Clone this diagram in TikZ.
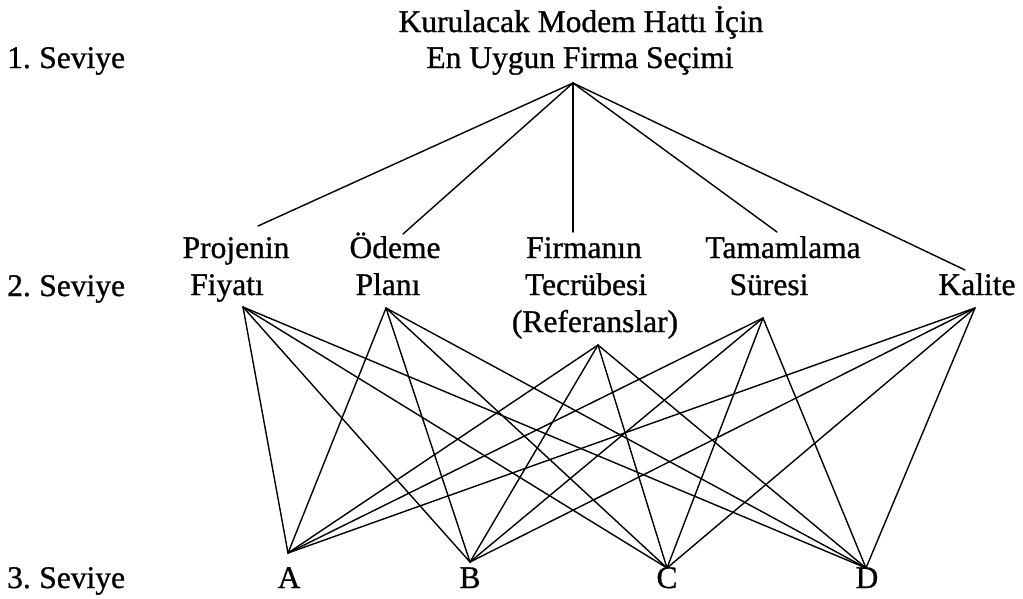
\documentclass[tikz,border=0pt]{standalone}
\usepackage{fontspec}
\setmainfont{Liberation Serif}[FakeBold=0.9]
\begin{document}
\begin{tikzpicture}[x=1pt,y=-1pt,
  lbl/.style={font=\fontsize{31.5}{38}\selectfont, anchor=base, inner sep=0pt},
  lvl/.style={lbl, anchor=base west},
  edge/.style={line width=1.4pt, line cap=round}]
\useasboundingbox (0,0) rectangle (1023,598);
% texts
\node[lbl] (t1) at (581,32) {Kurulacak Modem Hattı İçin};
\node[lbl] (t2) at (580,68) {En Uygun Firma Seçimi};
\node[lvl] (s1) at (7,68) {1.\kern-2pt{} Seviye};
\node[lvl] (s2) at (7,296) {2.\kern-2pt{} Seviye};
\node[lvl] (s3) at (7,588) {3.\kern-2pt{} Seviye};
\node[lbl] (p1) at (236,258) {Projenin};
\node[lbl] (p2) at (227,295) {Fiyatı};
\node[lbl] (o1) at (395,258) {Ödeme};
\node[lbl] (o2) at (388,295) {Planı};
\node[lbl] (f1) at (584,258) {Firmanın};
\node[lbl] (f2) at (586,295) {Tecrübesi};
\node[lbl] (f3) at (595,332) {(Referanslar)};
\node[lbl] (m1) at (783,258) {Tamamlama};
\node[lbl] (m2) at (769,295) {Süresi};
\node[lbl] (k1) at (977,295) {Kalite};
\node[lbl] (la) at (289,588) {A};
\node[lbl] (lb) at (470,588) {B};
\node[lbl] (lc) at (667,588) {C};
\node[lbl] (ld) at (867,588) {D};
% connection points
\coordinate (apex) at (573,83);
\coordinate (pt) at (258,226);
\coordinate (ot) at (403,234);
\coordinate (ft) at (573,232);
\coordinate (mt) at (777,232);
\coordinate (kt) at (965,270);
\coordinate (pb) at (243,307);
\coordinate (ob) at (386,308);
\coordinate (fb) at (598,345);
\coordinate (mb) at (763,318);
\coordinate (kb) at (975,308);
\coordinate (a) at (288,553);
\coordinate (b) at (470,562);
\coordinate (c) at (667,568);
\coordinate (d) at (866,568);
% edges
\foreach \t in {pt,ot,ft,mt,kt} \draw[edge] (apex) -- (\t);
\foreach \s in {pb,ob,fb,mb,kb}
  \foreach \e in {a,b,c,d}
    \draw[edge] (\s) -- (\e);
\end{tikzpicture}
\end{document}
